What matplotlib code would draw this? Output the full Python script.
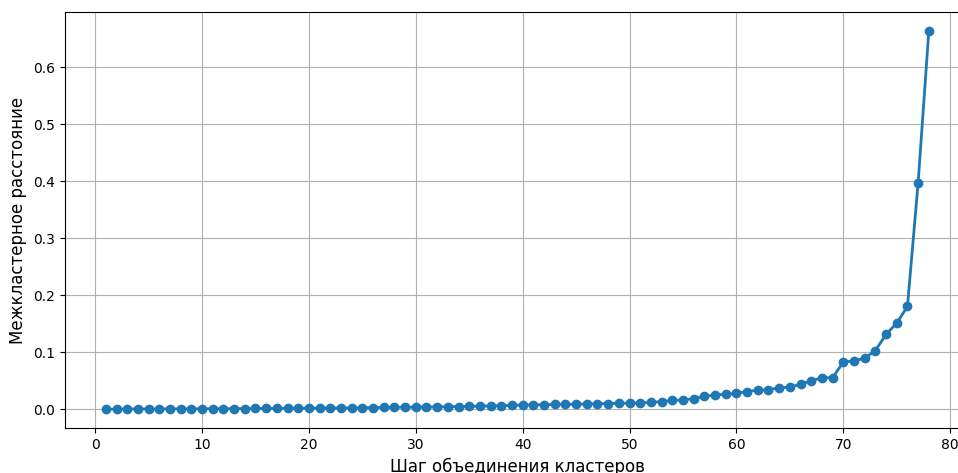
import matplotlib
matplotlib.use("Agg")
import matplotlib.pyplot as plt

steps = list(range(1, 79))
distances = [
    0.0002, 0.0003, 0.0004, 0.0004, 0.0005, 0.0005, 0.0006, 0.0006, 0.0007, 0.0007,
    0.0008, 0.0008, 0.0009, 0.0010, 0.0013, 0.0014, 0.0015, 0.0016, 0.0017, 0.0019,
    0.0020, 0.0021, 0.0022, 0.0023, 0.0025, 0.0030, 0.0032, 0.0034, 0.0036, 0.0038,
    0.0040, 0.0042, 0.0044, 0.0046, 0.0050, 0.0055, 0.0058, 0.0062, 0.0068, 0.0073,
    0.0076, 0.0080, 0.0083, 0.0086, 0.0088, 0.0092, 0.0096, 0.0100, 0.0104, 0.0106,
    0.0110, 0.0120, 0.0135, 0.0155, 0.0162, 0.0185, 0.0225, 0.0250, 0.0262, 0.0280,
    0.0310, 0.0335, 0.0340, 0.0380, 0.0385, 0.0440, 0.0500, 0.0550, 0.0555, 0.0825,
    0.0850, 0.0895, 0.1030, 0.1315, 0.1510, 0.1805, 0.3975, 0.6640,
]

xlabel = "Шаг объединения кластеров"
ylabel = "Межкластерное расстояние"

fig = plt.figure(figsize=(9.58, 4.73), dpi=100)
ax = fig.add_axes([0.0675, 0.0951, 0.945, 0.8795])
ax.plot(steps, distances, marker="o", linewidth=2, markersize=6, color="#1f77b4")
ax.set_xlabel(xlabel, fontsize=12)
ax.set_ylabel(ylabel, fontsize=12)
ax.grid(True)
ax.set_yticks([0.0, 0.1, 0.2, 0.3, 0.4, 0.5, 0.6])
fig.savefig("out.png", dpi=100)
